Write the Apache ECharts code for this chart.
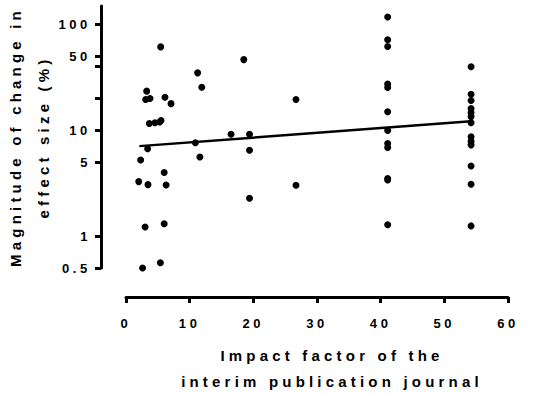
<!DOCTYPE html>
<html>
<head>
<meta charset="utf-8">
<script src="https://cdn.jsdelivr.net/npm/echarts@6.0.0/dist/echarts.min.js"></script>
<style>
  html, body { margin: 0; padding: 0; background: #fff; }
  #chart { width: 541px; height: 394px; }
  /* the original uses widely spaced bold type */
  #chart text { letter-spacing: 0.28em; }
</style>
</head>
<body>
<div id="chart"></div>
<script>
// impact factor (x) and magnitude of change in effect size, % (y)
const impactFactor = [
  2.6, 5.4, 3.0, 6.0, 19.4, 2.0, 3.45, 6.3, 26.7, 6.0,
  2.3, 11.6, 3.4, 19.4, 10.9, 16.5, 19.4, 3.66, 4.55, 5.3,
  5.5, 7.07, 3.09, 3.77, 6.12, 26.7, 3.25, 11.9, 11.25, 18.5,
  5.45,
  41.1, 41.1, 41.1, 41.1, 41.1, 41.1, 41.1, 41.1, 41.1, 41.1, 41.1, 41.1,
  54.2, 54.2, 54.2, 54.2, 54.2, 54.2, 54.2, 54.2, 54.2, 54.2, 54.2, 54.2, 54.2
]
const changePct = [
  0.50, 0.56, 1.22, 1.31, 2.28, 3.28, 3.07, 3.05, 3.03, 4.0,
  5.25, 5.6, 6.7, 6.5, 7.65, 9.2, 9.2, 11.6, 11.8, 12.0,
  12.4, 17.9, 19.6, 20.0, 20.6, 19.6, 23.5, 25.6, 35.0, 46.7,
  61.6,
  118, 72, 62, 27.5, 25.5, 15.0, 10.0, 7.5, 6.9, 3.5, 3.4, 1.28,
  40, 22, 19.2, 16.1, 14.7, 13.5, 11.8, 8.7, 7.9, 7.3, 4.6, 3.1, 1.25
]

// fitted line end points
const fitX = [2.1, 54.2]
const fitY = [7.1, 12.2]

const yTicks = [0.5, 1, 5, 10, 20, 40, 50, 100]
const yLabels = [0.5, 1, 5, 10, 50, 100]
const xTicks = [0, 10, 20, 30, 40, 50, 60]

const font = "'Liberation Sans', Arial, sans-serif"
const lg = (v) => Math.log10(v)

const chart = echarts.init(document.getElementById('chart'), null, { renderer: 'svg' })

const option = {
  animation: false,
  backgroundColor: '#fff',
  grid: { left: 126, right: 33, top: 6, bottom: 126, outerBoundsMode: 'none' },
  xAxis: {
    type: 'value',
    min: xTicks[0],
    max: xTicks[xTicks.length - 1],
    interval: 10,
    offset: 29,
    splitLine: { show: false },
    axisLine: { show: true, onZero: false, lineStyle: { color: '#000', width: 3 } },
    axisTick: { show: true, length: 6, lineStyle: { color: '#000', width: 3 } },
    axisLabel: { color: '#000', fontFamily: font, fontWeight: 'bold', fontSize: 13, margin: 20 },
    name: 'Impact factor of the\ninterim publication journal',
    nameLocation: 'middle',
    nameGap: 45,
    nameTextStyle: {
      color: '#000', fontFamily: font, fontWeight: 'bold', fontSize: 15,
      lineHeight: 26, verticalAlign: 'top', padding: [0, 0, 0, 30]
    }
  },
  yAxis: {
    type: 'value',
    min: lg(0.5),
    max: lg(150),
    offset: 25,
    splitLine: { show: false },
    axisLine: { show: true, onZero: false, lineStyle: { color: '#000', width: 3 } },
    axisTick: {
      show: true, length: 6, customValues: yTicks.map(lg),
      lineStyle: { color: '#000', width: 3 }
    },
    axisLabel: {
      color: '#000', fontFamily: font, fontWeight: 'bold', fontSize: 13, margin: 10,
      customValues: yLabels.map(lg),
      formatter: (v) => String(Math.round(Math.pow(10, v) * 100) / 100)
    },
    name: 'Magnitude of change in\neffect size (%)',
    nameLocation: 'middle',
    nameGap: 44,
    nameTextStyle: {
      color: '#000', fontFamily: font, fontWeight: 'bold', fontSize: 15, lineHeight: 28
    }
  },
  series: [
    {
      type: 'scatter',
      symbol: 'circle',
      symbolSize: 7,
      itemStyle: { color: '#000', opacity: 1 },
      data: impactFactor.map((x, i) => [x, lg(changePct[i])])
    },
    {
      type: 'line',
      showSymbol: false,
      lineStyle: { color: '#000', width: 2.5 },
      data: fitX.map((x, i) => [x, lg(fitY[i])])
    }
  ]
}

chart.setOption(option)
</script>
</body>
</html>
